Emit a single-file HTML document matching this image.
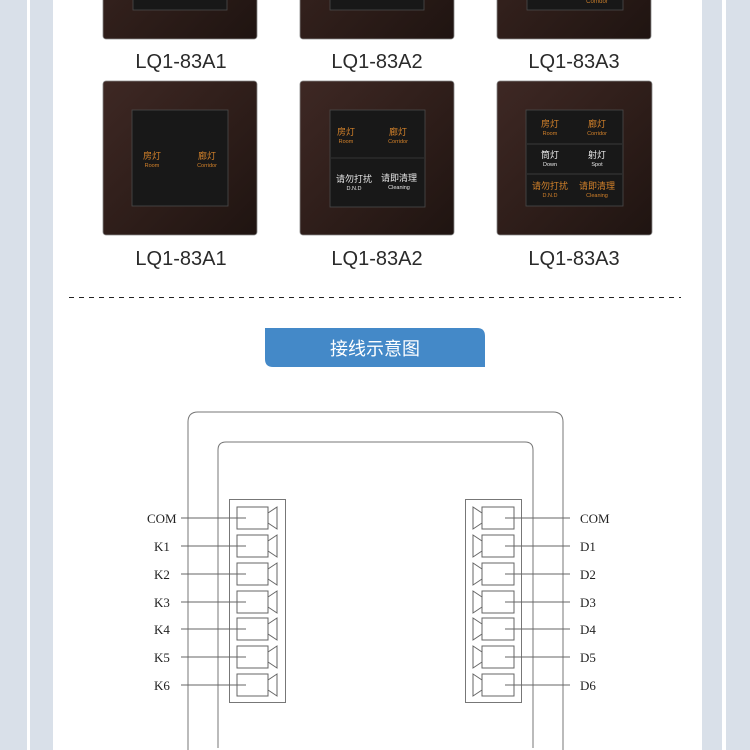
<!DOCTYPE html>
<html><head><meta charset="utf-8"><style>
html,body{margin:0;padding:0;background:#fff;}
body{width:750px;height:750px;overflow:hidden;position:relative;}
svg{position:absolute;left:0;top:0;}
</style></head><body>
<svg width="750" height="750" viewBox="0 0 750 750" xmlns="http://www.w3.org/2000/svg">
<defs>
<linearGradient id="pl" x1="0" y1="0" x2="1" y2="1">
<stop offset="0" stop-color="#3e2824"/><stop offset="0.5" stop-color="#2f1e1a"/><stop offset="1" stop-color="#1f1411"/>
</linearGradient>
<g id="cellL">
<rect x="237" y="-11" width="31" height="22" fill="#fff" stroke="#666" stroke-width="1"/>
<polyline points="268,-5 277,-11 277,11 268,5" fill="none" stroke="#666" stroke-width="1"/>
<line x1="181" y1="0" x2="246" y2="0" stroke="#666" stroke-width="1"/>
</g>
<g id="cellR">
<rect x="482" y="-11" width="32" height="22" fill="#fff" stroke="#666" stroke-width="1"/>
<polyline points="482,-5 473,-11 473,11 482,5" fill="none" stroke="#666" stroke-width="1"/>
<line x1="505" y1="0" x2="570" y2="0" stroke="#666" stroke-width="1"/>
</g>
</defs>
<rect x="0" y="0" width="27" height="750" fill="#d9e0e9"/>
<rect x="30" y="0" width="23" height="750" fill="#d9e0e9"/>
<rect x="702" y="0" width="20" height="750" fill="#d9e0e9"/>
<rect x="726" y="0" width="24" height="750" fill="#d9e0e9"/>

<g>
<rect x="103" y="-120" width="154" height="159" rx="3" fill="url(#pl)" stroke="#888" stroke-width="0.8"/>
<rect x="133" y="-90" width="94" height="100" fill="#181818" stroke="#4a4a4a" stroke-width="0.8"/>
<rect x="300" y="-120" width="154" height="159" rx="3" fill="url(#pl)" stroke="#888" stroke-width="0.8"/>
<rect x="330" y="-90" width="94" height="100" fill="#181818" stroke="#4a4a4a" stroke-width="0.8"/>
<rect x="497" y="-120" width="154" height="159" rx="3" fill="url(#pl)" stroke="#888" stroke-width="0.8"/>
<rect x="527" y="-90" width="96" height="100" fill="#181818" stroke="#4a4a4a" stroke-width="0.8"/>
<text x="597" y="3" font-family="Liberation Sans, sans-serif" font-size="6" fill="#c47a2a" text-anchor="middle">Corridor</text>
</g>
<g font-family="Liberation Sans, sans-serif" font-size="20" fill="#2a2a2a" text-anchor="middle">
<text x="181" y="68">LQ1-83A1</text>
<text x="377" y="68">LQ1-83A2</text>
<text x="574" y="68">LQ1-83A3</text>
<text x="181" y="265">LQ1-83A1</text>
<text x="377" y="265">LQ1-83A2</text>
<text x="574" y="265">LQ1-83A3</text>
</g>

<rect x="103" y="81" width="154" height="154" rx="3" fill="url(#pl)" stroke="#888" stroke-width="0.8"/>
<rect x="300" y="81" width="154" height="154" rx="3" fill="url(#pl)" stroke="#888" stroke-width="0.8"/>
<rect x="497" y="81" width="155" height="154" rx="3" fill="url(#pl)" stroke="#888" stroke-width="0.8"/>
<rect x="132" y="110" width="96" height="96" fill="#181818" stroke="#4a4a4a" stroke-width="0.8"/>
<rect x="330" y="110" width="95" height="97" fill="#181818" stroke="#4a4a4a" stroke-width="0.8"/>
<line x1="331" y1="158" x2="424" y2="158" stroke="#333"/>
<rect x="526" y="110" width="97" height="96" fill="#181818" stroke="#4a4a4a" stroke-width="0.8"/>
<line x1="527" y1="144" x2="622" y2="144" stroke="#3a3a3a"/>
<line x1="527" y1="174" x2="622" y2="174" stroke="#3a3a3a"/>

<g font-family="Liberation Sans, 'Noto Sans CJK SC', sans-serif" text-anchor="middle">
<g fill="#d4822a">
<text x="152" y="159" font-size="9">房灯</text><text x="152" y="167" font-size="5.5">Room</text>
<text x="207" y="159" font-size="9">廊灯</text><text x="207" y="167" font-size="5.5">Corridor</text>
<text x="346" y="135" font-size="9">房灯</text><text x="346" y="143" font-size="5.5">Room</text>
<text x="398" y="135" font-size="9">廊灯</text><text x="398" y="143" font-size="5.5">Corridor</text>
<text x="550" y="127" font-size="9">房灯</text><text x="550" y="135" font-size="5.5">Room</text>
<text x="597" y="127" font-size="9">廊灯</text><text x="597" y="135" font-size="5.5">Corridor</text>
<text x="550" y="189" font-size="9">请勿打扰</text><text x="550" y="197" font-size="5.5">D.N.D</text>
<text x="597" y="189" font-size="9">请即清理</text><text x="597" y="197" font-size="5.5">Cleaning</text>
</g>
<g fill="#e8e8e8">
<text x="354" y="182" font-size="9">请勿打扰</text><text x="354" y="190" font-size="5.5">D.N.D</text>
<text x="399" y="181" font-size="9">请即清理</text><text x="399" y="189" font-size="5.5">Cleaning</text>
<text x="550" y="158" font-size="9">筒灯</text><text x="550" y="166" font-size="5.5">Down</text>
<text x="597" y="158" font-size="9">射灯</text><text x="597" y="166" font-size="5.5">Spot</text>
</g>
</g>

<line x1="69" y1="297.5" x2="681" y2="297.5" stroke="#222" stroke-width="1" stroke-dasharray="5,5"/>

<path d="M265,328 H477 Q485,328 485,336 V367 H273 Q265,367 265,359 Z" fill="#4489c8"/>
<text x="375" y="355" font-family="Liberation Sans, 'Noto Sans CJK SC', sans-serif" font-size="18" fill="#fff" text-anchor="middle">接线示意图</text>

<path d="M188,760 V422 Q188,412 198,412 H553 Q563,412 563,422 V760" fill="none" stroke="#777" stroke-width="1"/>
<path d="M218,748 V450 Q218,442 226,442 H525 Q533,442 533,450 V748" fill="none" stroke="#777" stroke-width="1"/>
<rect x="229.5" y="499.5" width="56" height="203" fill="#fff" stroke="#777"/>
<rect x="465.5" y="499.5" width="56" height="203" fill="#fff" stroke="#777"/>
<use href="#cellL" y="518"/><use href="#cellL" y="546"/><use href="#cellL" y="574"/><use href="#cellL" y="602"/><use href="#cellL" y="629"/><use href="#cellL" y="657"/><use href="#cellL" y="685"/>
<use href="#cellR" y="518"/><use href="#cellR" y="546"/><use href="#cellR" y="574"/><use href="#cellR" y="602"/><use href="#cellR" y="629"/><use href="#cellR" y="657"/><use href="#cellR" y="685"/>
<g font-family="Liberation Serif, serif" font-size="13" fill="#222">
<text x="147" y="523">COM</text><text x="154" y="551">K1</text><text x="154" y="579">K2</text><text x="154" y="607">K3</text><text x="154" y="634">K4</text><text x="154" y="662">K5</text><text x="154" y="690">K6</text>
<text x="580" y="523">COM</text><text x="580" y="551">D1</text><text x="580" y="579">D2</text><text x="580" y="607">D3</text><text x="580" y="634">D4</text><text x="580" y="662">D5</text><text x="580" y="690">D6</text>
</g>
</svg>
</body></html>
